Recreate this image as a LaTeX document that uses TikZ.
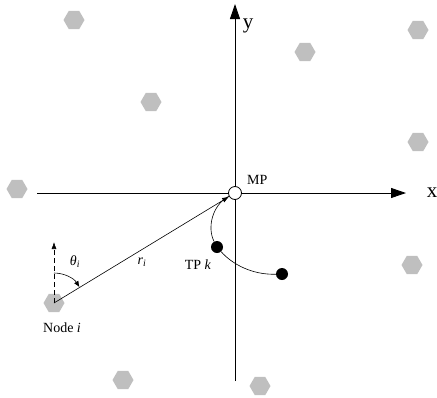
\documentclass[tikz,border=0pt]{standalone}
\usepackage{fontspec}
\setmainfont{Liberation Serif}
\usetikzlibrary{shapes.geometric,arrows.meta}
\begin{document}
\begin{tikzpicture}[x=1pt,y=-1pt,
  hexnode/.style={regular polygon, regular polygon sides=6, minimum size=21pt, inner sep=0pt, fill=black!25, draw=none},
  axisline/.style={line width=0.9pt, -{Triangle[length=15pt,width=10pt]}},
  conn/.style={line width=0.6pt},
  dotnode/.style={circle, fill=black, inner sep=0pt, minimum size=12pt},
  mpnode/.style={circle, draw=black, fill=white, line width=0.8pt, inner sep=0pt, minimum size=13pt},
  lbl/.style={inner sep=1pt, font=\fontsize{14pt}{16pt}\selectfont},
  axlbl/.style={inner sep=1pt, font=\fontsize{21pt}{24pt}\selectfont}]
\useasboundingbox (0,0) rectangle (437,397);
% hexagon nodes
\node[hexnode] (h1) at (74,20) {};
\node[hexnode] (h2) at (305,52) {};
\node[hexnode] (h3) at (418,30) {};
\node[hexnode] (h4) at (151,102) {};
\node[hexnode] (h5) at (418,142) {};
\node[hexnode] (h6) at (17,189) {};
\node[hexnode] (h7) at (412,265) {};
\node[hexnode] (nodei) at (54,303) {};
\node[hexnode] (h9) at (123,380) {};
\node[hexnode] (h10) at (260,386) {};
% axes
\coordinate (xl) at (37,193);
\coordinate (xr) at (406,193);
\coordinate (yb) at (235,381);
\coordinate (yt) at (235,4);
\draw[axisline] (xl) -- (xr);
\draw[axisline] (yb) -- (yt);
\node[axlbl] (xlab) at (432,193) {x};
\node[axlbl] (ylab) at (248,26) {y};
% MP
\node[mpnode] (mp) at (235,193) {};
\node[lbl, anchor=west] (mplab) at (246,180) {MP};
% TP points
\node[dotnode] (tp1) at (217,247) {};
\node[dotnode] (tp2) at (282,274) {};
\draw[conn] (tp1) .. controls (207,228) and (212,205) .. (mp);
\draw[conn] (tp1) .. controls (232,264) and (252,275) .. (tp2);
\node[lbl] (tplab) at (198,265) {TP \textit{k}};
% Node i
\coordinate (nc) at (54,303);
\coordinate (up) at (54,242);
\draw[conn, -{Latex[length=7pt,width=5pt]}] (nc) -- (mp);
\draw[conn, dashed, dash pattern=on 5pt off 3pt, -{Latex[length=7pt,width=5pt]}] (nc) -- (up);
\draw[conn, -{Latex[length=6pt,width=5pt]}] (54,273) arc[start angle=-90, end angle=-32, radius=30];
\node[lbl] (theta) at (75,262) {\textit{θ\textsubscript{i}}};
\node[lbl] (ri) at (142,262) {\textit{r\textsubscript{i}}};
\node[lbl] (nodeilab) at (62,328) {Node \textit{i}};
\end{tikzpicture}
\end{document}
